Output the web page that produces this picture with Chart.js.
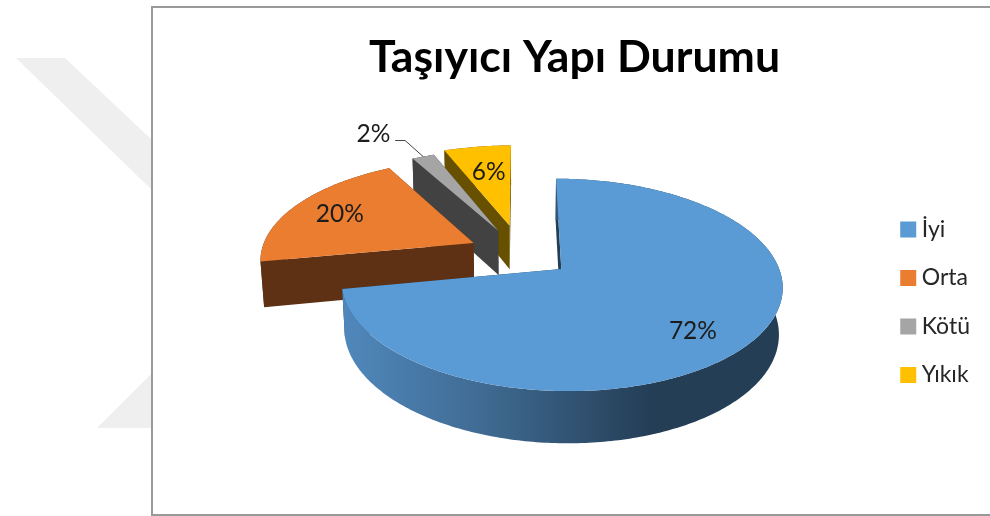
<!DOCTYPE html>
<html lang="tr">
<head>
<meta charset="utf-8">
<title>Taşıyıcı Yapı Durumu</title>
<script src="https://cdn.jsdelivr.net/npm/chart.js@4"></script>
<style>
  html, body { margin: 0; padding: 0; background: #fff; width: 990px; height: 516px; overflow: hidden; }
  #mark { position: absolute; left: 0; top: 0; }
  #frame { position: absolute; left: 151px; top: 6px; width: 839px; height: 506px; border: 2px solid #999; border-right: none; background: #fff; }
  #frame canvas { display: block; }
</style>
</head>
<body>
<svg id="mark" width="990" height="516" aria-hidden="true">
  <polygon points="16,58 65,58 152,140 152,190" fill="#efefef"/>
  <polygon points="97,428 152,428 152,373" fill="#efefef"/>
</svg>
<div id="frame"><canvas id="c" width="837" height="506"></canvas></div>
<script>
const chartTitle = 'Taşıyıcı Yapı Durumu';
const categories = ['İyi', 'Orta', 'Kötü', 'Yıkık'];
const shares = [72, 20, 2, 6];
const explodePercent = [24, 25, 26, 30];

const topColors  = ['#5B9BD5', '#EB7D31', '#A5A5A5', '#FFC000'];
const wallColors = ['#243E56', '#5F3114', '#424242', '#675000'];
const labelOffsets = [[0.539, 0.549], [-0.677, -0.315], [-0.731, -1.228], [-0.116, -0.638]];
const FONT = 'Lato, Carlito, "Open Sans", sans-serif';

// canvas sits at (153, 8) in the page
const P = { cx: 521 - 153, cy: 253.4 - 8, A: 213, B: 99.2, p: 0.147, q: 0.014, C: 46 };
function project(u, v, z) {
  const w = 1 - P.p * v + P.q * z;
  return [P.cx + P.A * u / w, P.cy + (P.B * v + P.C * z) / w];
}
function arcFrame(arc) {
  const mid = (arc.startAngle + arc.endAngle) / 2;
  const e = arc.options.offset / 100;
  return { ox: Math.cos(mid) * e, oy: Math.sin(mid) * e, mid };
}
function trace(ctx, pts) {
  pts.forEach((p, i) => i ? ctx.lineTo(p[0], p[1]) : ctx.moveTo(p[0], p[1]));
}
function rimPoints(arc, f, z) {
  const pts = [];
  const n = Math.max(4, Math.ceil((arc.endAngle - arc.startAngle) / 0.015));
  for (let i = 0; i <= n; i++) {
    const a = arc.startAngle + (arc.endAngle - arc.startAngle) * i / n;
    pts.push(project(f.ox + Math.cos(a), f.oy + Math.sin(a), z));
  }
  return pts;
}

const pie3d = {
  id: 'pie3d',
  beforeDatasetDraw(chart, args) {
    const ctx = chart.ctx;
    const arcs = args.meta.data;
    [3, 2, 1, 0].forEach(i => {
      const arc = arcs[i];
      const f = arcFrame(arc);
      const top = rimPoints(arc, f, 0);
      const bottom = rimPoints(arc, f, 1);
      const tipT = project(f.ox, f.oy, 0);
      const tipB = project(f.ox, f.oy, 1);
      // cut faces
      ctx.fillStyle = wallColors[i];
      [[top[top.length - 1], bottom[bottom.length - 1]], [top[0], bottom[0]]].forEach(e => {
        ctx.beginPath();
        trace(ctx, [tipT, e[0], e[1], tipB]);
        ctx.closePath();
        ctx.fill();
      });
      // outer wall
      ctx.beginPath();
      trace(ctx, top.concat(bottom.slice().reverse()));
      ctx.closePath();
      if (i === 0) {
        const g = ctx.createLinearGradient(343 - 153, 0, 650 - 153, 0);
        g.addColorStop(0, '#5088BC');
        g.addColorStop(0.45, '#406B93');
        g.addColorStop(1, '#243E56');
        ctx.fillStyle = g;
      }
      ctx.fill();
      // top face
      ctx.beginPath();
      trace(ctx, [tipT].concat(top));
      ctx.closePath();
      ctx.fillStyle = arc.options.backgroundColor;
      ctx.fill();
    });
    // value labels
    ctx.font = '24.5px ' + FONT;
    ctx.fillStyle = '#1c1c1c';
    ctx.textAlign = 'center';
    ctx.textBaseline = 'middle';
    arcs.forEach((arc, i) => {
      const f = arcFrame(arc);
      const o = labelOffsets[i];
      const s = project(f.ox + o[0], f.oy + o[1], 0);
      ctx.fillText(shares[i] + '%', s[0], s[1]);
    });
    // leader for the small slice
    const g = arcs[2], gf = arcFrame(g);
    const e = project(gf.ox + Math.cos(gf.mid), gf.oy + Math.sin(gf.mid), 0);
    ctx.strokeStyle = '#444';
    ctx.lineWidth = 1;
    ctx.beginPath();
    trace(ctx, [[e[0], e[1]], [e[0] - 18, e[1] - 16], [e[0] - 28, e[1] - 16]]);
    ctx.stroke();
    return false;
  }
};

new Chart(document.getElementById('c'), {
  type: 'pie',
  data: {
    labels: categories,
    datasets: [{
      data: shares,
      backgroundColor: topColors,
      borderWidth: 0,
      offset: explodePercent
    }]
  },
  options: {
    responsive: false,
    animation: false,
    rotation: 0,
    layout: { padding: { left: 16, right: 10, top: 0, bottom: 0 } },
    plugins: {
      title: {
        display: true,
        text: chartTitle,
        color: '#000',
        font: { family: FONT, size: 44.6, weight: 'bold' },
        padding: { top: 23, bottom: 6 }
      },
      legend: {
        position: 'right',
        fullSize: false,
        labels: {
          usePointStyle: true,
          pointStyle: 'rect',
          boxWidth: 4,
          boxHeight: 16,
          padding: 25.5,
          color: '#262626',
          font: { family: FONT, size: 23 }
        }
      },
      tooltip: { enabled: false }
    }
  },
  plugins: [pie3d]
});
</script>
</body>
</html>
